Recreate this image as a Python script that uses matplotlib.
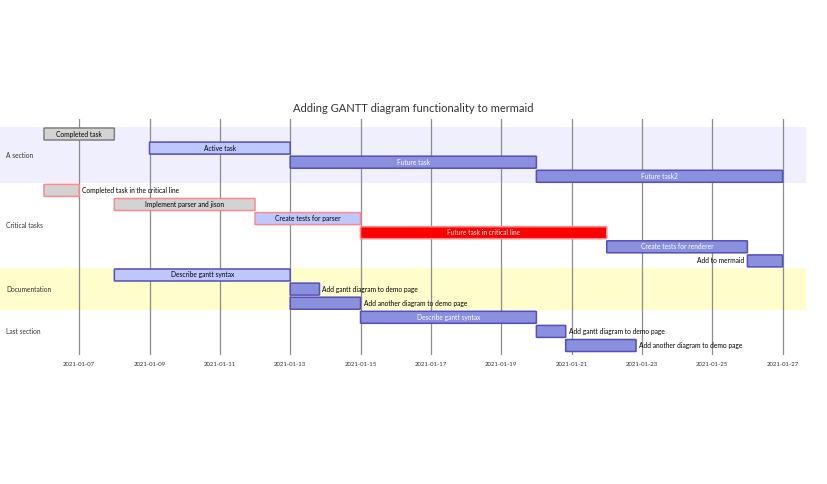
import matplotlib
matplotlib.use("Agg")
import matplotlib.pyplot as plt
import matplotlib.dates as mdates
from matplotlib.patches import FancyBboxPatch
from datetime import datetime, timedelta

plt.rcParams['font.family'] = ['Lato', 'DejaVu Sans']

title = "Adding GANTT diagram functionality to mermaid"

sections = ["A section", "Critical tasks", "Documentation", "Last section"]
section_rows = [4, 6, 3, 3]

tasks = ["Completed task", "Active task", "Future task", "Future task2",
         "Completed task in the critical line", "Implement parser and jison",
         "Create tests for parser", "Future task in critical line",
         "Create tests for renderer", "Add to mermaid",
         "Describe gantt syntax", "Add gantt diagram to demo page",
         "Add another diagram to demo page",
         "Describe gantt syntax", "Add gantt diagram to demo page",
         "Add another diagram to demo page"]
starts = ["2021-01-06 00", "2021-01-09 00", "2021-01-13 00", "2021-01-20 00",
          "2021-01-06 00", "2021-01-08 00", "2021-01-12 00", "2021-01-15 00",
          "2021-01-22 00", "2021-01-26 00",
          "2021-01-08 00", "2021-01-13 00", "2021-01-13 00",
          "2021-01-15 00", "2021-01-20 00", "2021-01-20 20"]
durations_h = [48, 96, 168, 168,
               24, 96, 72, 168, 96, 24,
               120, 20, 48,
               120, 20, 48]
status = ["done", "active", "", "",
          "crit done", "crit done", "crit active", "crit", "", "",
          "active", "", "",
          "", "", ""]
label_pos = ["in", "in", "in", "in",
             "right", "in", "in", "in", "in", "left",
             "in", "right", "right",
             "in", "right", "right"]

tick_dates = ["2021-01-%02d" % d for d in range(7, 28, 2)]

band_colors = ["#efeffd", "white", "#fffdcc", "white"]

fig = plt.figure(figsize=(8.28, 4.84), dpi=100)
W, H = 828, 484
# axes covering pixel x 0..806, y 119..355
ax = fig.add_axes([0 / W, 1 - 355 / H, 806 / W, (355 - 119) / H])

d0 = mdates.date2num(datetime(2021, 1, 6))
px_per_day = 35.17
ax.set_xlim(d0 - 44 / px_per_day, d0 + (806 - 44) / px_per_day)
row_h = 14.1
ax.set_ylim((355 - 134) / row_h, (119 - 134) / row_h)

for s in ax.spines.values():
    s.set_visible(False)
ax.set_yticks([])

fs = 4.8

# section bands and labels
r = 0
for name, n, c in zip(sections, section_rows, band_colors):
    if c != "white":
        ax.axhspan(r - 0.5, r + n - 0.5, color=c, zorder=0, lw=0)
    ax.text(ax.get_xlim()[0] + 6 / px_per_day, r + (n - 1) / 2, name,
            fontsize=fs, color="#333333", va="center", ha="left", zorder=5)
    r += n

# grid
ticks = [mdates.date2num(datetime.strptime(t, "%Y-%m-%d")) for t in tick_dates]
ax.set_xticks(ticks)
ax.set_xticklabels(tick_dates, fontsize=4.3, color="#333333")
ax.tick_params(axis="x", length=0, pad=5)
for t in ticks:
    ax.axvline(t, color="#8c8c8c", lw=0.9, zorder=1)

for i, (name, st, dur, s, lp) in enumerate(zip(tasks, starts, durations_h, status, label_pos)):
    t0 = datetime.strptime(st, "%Y-%m-%d %H")
    x0 = mdates.date2num(t0)
    x1 = mdates.date2num(t0 + timedelta(hours=dur))
    if "done" in s:
        fc, ec, tc = "#d3d3d3", "#808080", "black"
    elif "active" in s:
        fc, ec, tc = "#bfc7ff", "#534fbc", "black"
    elif s == "crit":
        fc, ec, tc = "#ff0000", "#ff8888", "white"
    else:
        fc, ec, tc = "#8a90dd", "#534fbc", "white"
    if "crit" in s:
        ec = "#ff8888"
    h = 12 / row_h
    bar = FancyBboxPatch((x0, i - h / 2), x1 - x0, h,
                         boxstyle="round,pad=0,rounding_size=0.05",
                         mutation_aspect=row_h / px_per_day,
                         fc=fc, ec=ec, lw=1.1, zorder=3)
    ax.add_patch(bar)
    if lp == "in":
        ax.text((x0 + x1) / 2, i, name, ha="center", va="center",
                fontsize=fs, color=tc, zorder=4)
    elif lp == "right":
        ax.text(x1 + 3 / px_per_day, i, name, ha="left", va="center",
                fontsize=fs, color="black", zorder=4)
    else:
        ax.text(x0 - 3 / px_per_day, i, name, ha="right", va="center",
                fontsize=fs, color="black", zorder=4)

fig.text(413 / W, 1 - 109 / H, title, ha="center", va="center",
         fontsize=8.0, color="#333333")

fig.savefig("out.png", dpi=100)
